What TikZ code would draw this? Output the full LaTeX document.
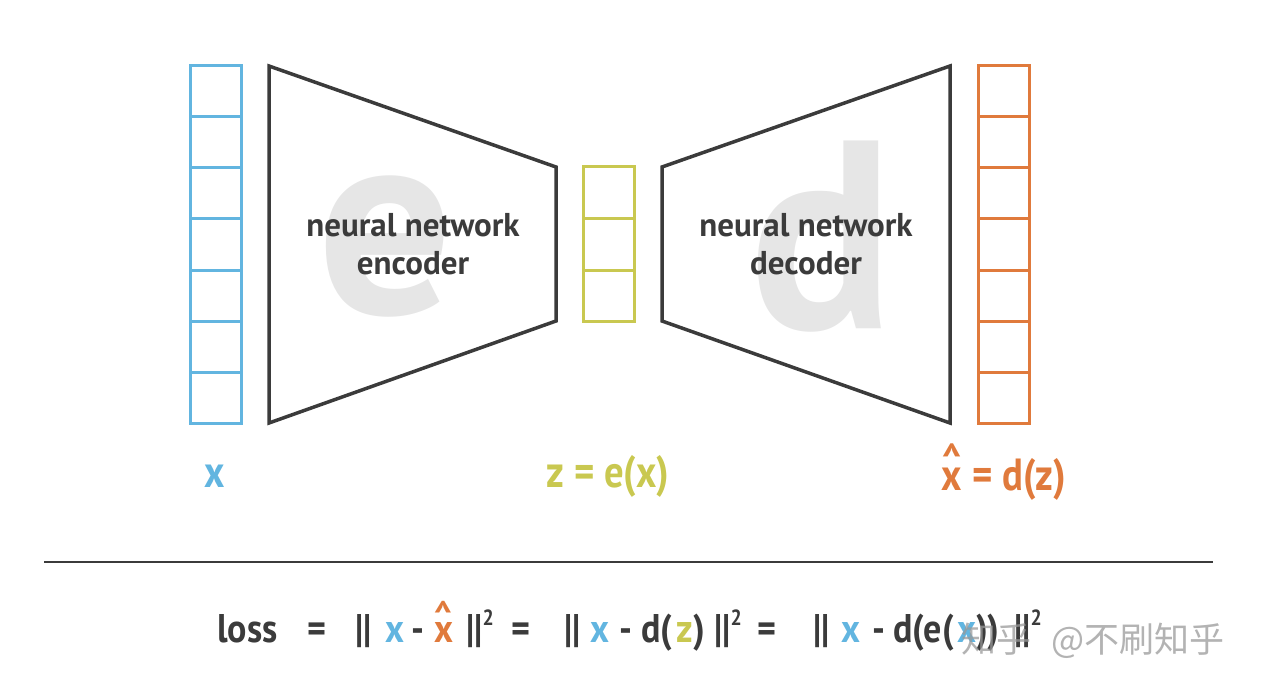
\documentclass[tikz,border=0pt]{standalone}
\usepackage{fontspec}
\setmainfont{PT Sans}
\newfontfamily\condfont[FakeStretch=0.86]{PT Sans}
\newfontfamily\formfont[FakeStretch=0.9]{PT Sans}
\newfontfamily\cjkfont{Noto Sans CJK SC}
\definecolor{cblue}{HTML}{62B5E0}
\definecolor{cyel}{HTML}{C9C850}
\definecolor{corange}{HTML}{E07A3C}
\definecolor{cdark}{HTML}{3B3B3B}
\definecolor{cbig}{HTML}{E6E6E6}
\newcommand\myhat[1]{\ooalign{#1\cr\hidewidth\raisebox{0.32em}{\symbol{"5E}}\hidewidth\cr}}
\newcommand\sqr{\raisebox{0.42em}{\fontsize{22}{22}\selectfont 2}}
\begin{document}
\begin{tikzpicture}[x=1pt,y=-1pt,
  cellbox/.style={draw=#1,line width=3pt,minimum width=51pt,minimum height=51pt,inner sep=0pt},
  ycellbox/.style={draw=cyel,line width=3pt,minimum width=51pt,minimum height=51.67pt,inner sep=0pt},
  netbox/.style={draw=cdark,line width=3.5pt,line join=miter},
  bigletter/.style={text=cbig,inner sep=0pt,font=\fontsize{268}{268}\selectfont\bfseries},
  nettext/.style={text=cdark,align=center,inner sep=0pt,font=\fontsize{33}{38}\selectfont\bfseries},
  varlabel/.style={inner sep=0pt,font=\condfont\fontsize{45}{45}\selectfont\bfseries},
  fpart/.style={anchor=base west,inner sep=0pt,text=cdark,font=\formfont\fontsize{40}{40}\selectfont\bfseries},
  wmark/.style={anchor=base west,inner sep=0pt,text=black!40,opacity=0.75,font=\cjkfont\fontsize{35}{35}\selectfont}
]
\useasboundingbox (0,0) rectangle (1262,690);
% big background letters
\node[bigletter] (bige) at (386,246) {e};
\node[bigletter] (bigd) at (822,237) {d};
% input column
\foreach \i in {0,...,6}{
  \node[cellbox=cblue] (x\i) at (215.5,{91.5+51*\i}) {};
}
% latent column
\foreach \i in {0,...,2}{
  \node[ycellbox] (z\i) at (608.5,{192.8+51.67*\i}) {};
}
% output column
\foreach \i in {0,...,6}{
  \node[cellbox=corange] (o\i) at (1003.5,{91.5+51*\i}) {};
}
% encoder / decoder
\draw[netbox] (269,66) -- (556,167) -- (556,321) -- (269,423) -- cycle;
\draw[netbox] (662,167) -- (950,66) -- (950,423) -- (662,321) -- cycle;
\node[nettext] (enc) at (413,244) {neural network\\encoder};
\node[nettext] (dec) at (806,244) {neural network\\decoder};
% labels
\node[varlabel,text=cblue] (lx) at (215,476) {x};
\node[varlabel,text=cyel] (lz) at (608,476) {z = e(x)};
\node[varlabel,text=corange,anchor=base] (lxh) at (1004,490) {\myhat{x} = d(z)};
% separator
\draw[cdark,line width=1.5pt] (44,562) -- (1213,562);
% formula
\node[fpart] (f1) at (217,642) {loss};
\node[fpart] (f2) at (307,642) {=};
\node[fpart] (f3) at (355,642) {||};
\node[fpart,text=cblue] (f4) at (385,642) {x};
\node[fpart] (f5) at (411,642) {-};
\node[fpart,text=corange] (f6) at (434,642) {\myhat{x}};
\node[fpart] (f7) at (466,642) {||\sqr};
\node[fpart] (f8) at (511,642) {=};
\node[fpart] (f9) at (564,642) {||};
\node[fpart,text=cblue] (f10) at (590,642) {x};
\node[fpart] (f11) at (619,642) {-};
\node[fpart] (f12) at (641,642) {d(};
\node[fpart,text=cyel] (f13) at (676,642) {z};
\node[fpart] (f14) at (693,642) {)};
\node[fpart] (f15) at (714,642) {||\sqr};
\node[fpart] (f16) at (757,642) {=};
\node[fpart] (f17) at (813,642) {||};
\node[fpart,text=cblue] (f18) at (841,642) {x};
\node[fpart] (f19) at (872,642) {-};
\node[fpart] (f20) at (893,642) {d(e(};
\node[fpart,text=cblue] (f21) at (957,642) {x};
\node[fpart] (f22) at (976,642) {))};
\node[fpart] (f23) at (1014,642) {||\sqr};
% watermark
\node[wmark] (w1) at (961,652) {知乎};
\node[wmark] (w2) at (1051,652) {@不刷知乎};
\end{tikzpicture}
\end{document}
